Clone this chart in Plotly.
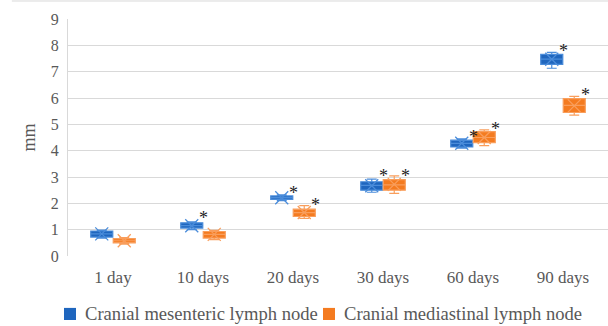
import plotly.graph_objects as go

categories = ["1 day", "10 days", "20 days", "30 days", "60 days", "90 days"]

mes_name = "Cranial mesenteric lymph node"
mes_low = [0.68, 1.00, 2.10, 2.42, 4.10, 7.13]
mes_q1 = [0.72, 1.06, 2.15, 2.50, 4.14, 7.28]
mes_med = [0.84, 1.15, 2.22, 2.68, 4.28, 7.48]
mes_q3 = [0.95, 1.26, 2.28, 2.82, 4.40, 7.66]
mes_high = [0.98, 1.30, 2.32, 2.92, 4.45, 7.73]
mes_mean = [0.84, 1.15, 2.21, 2.67, 4.28, 7.47]
mes_star = [None, 1.60, 2.53, 3.20, 4.69, 7.93]

med_name = "Cranial mediastinal lymph node"
med_low = [0.45, 0.62, 1.43, 2.38, 4.19, 5.35]
med_q1 = [0.50, 0.68, 1.50, 2.50, 4.30, 5.45]
med_med = [0.58, 0.82, 1.65, 2.70, 4.50, 5.72]
med_q3 = [0.66, 0.93, 1.78, 2.90, 4.72, 5.98]
med_high = [0.70, 0.97, 1.91, 3.04, 4.79, 6.06]
med_mean = [0.58, 0.82, 1.65, 2.72, 4.50, 5.70]
med_star = [None, None, 2.07, 3.18, 4.98, 6.25]

FONT = "Liberation Serif, Times New Roman, serif"
GRAY = "#595959"
GRID = "#D9D9D9"

series = [
    dict(name=mes_name, low=mes_low, q1=mes_q1, med=mes_med, q3=mes_q3, high=mes_high,
         mean=mes_mean, star=mes_star, fill="#1F66BE", line="#4A8CDA", off=-0.125, star_off=0.0,
         leg_x=-0.0074),
    dict(name=med_name, low=med_low, q1=med_q1, med=med_med, q3=med_q3, high=med_high,
         mean=med_mean, star=med_star, fill="#F47B20", line="#F99E5C", off=0.125, star_off=0.25,
         leg_x=0.4722),
]

fig = go.Figure()
annotations = []
shapes = [dict(type="line", xref="paper", yref="paper", x0=-0.104, x1=1.0, y0=1.076, y1=1.076,
               line=dict(color=GRID, width=1))]
for s in series:
    xs = [i + s["off"] for i in range(len(categories))]
    fig.add_trace(go.Box(
        x=xs, q1=s["q1"], median=s["med"], q3=s["q3"],
        lowerfence=s["low"], upperfence=s["high"],
        width=0.245, whiskerwidth=0.45, name=s["name"],
        fillcolor=s["fill"], line=dict(color=s["line"], width=1.2),
        marker=dict(color=s["fill"]), showlegend=False, hoverinfo="skip",
    ))
    fig.add_trace(go.Scatter(
        x=xs, y=s["mean"], mode="markers",
        marker=dict(symbol="x-thin-open", size=13, color=s["line"],
                    line=dict(color=s["line"], width=1.3)),
        showlegend=False, hoverinfo="skip",
    ))
    for i, v in enumerate(s["star"]):
        if v is not None:
            annotations.append(dict(
                x=i + s["star_off"], y=v, text="*", showarrow=False,
                font=dict(family=FONT, size=18, color="#222222"), yshift=-4,
            ))
    # legend entry (square + label), placed below the plot
    shapes.append(dict(type="rect", xref="paper", yref="paper",
                       x0=s["leg_x"], x1=s["leg_x"] + 0.0222, y0=-0.270, y1=-0.219,
                       fillcolor=s["fill"], line=dict(width=0)))
    annotations.append(dict(
        xref="paper", yref="paper", x=s["leg_x"] + 0.035, y=-0.2447,
        xanchor="left", yanchor="middle", text=s["name"], showarrow=False,
        font=dict(family=FONT, size=18.6, color=GRAY),
    ))

fig.update_layout(
    width=608, height=326,
    margin=dict(l=68, r=0, t=19, b=70),
    paper_bgcolor="white", plot_bgcolor="white",
    font=dict(family=FONT, color=GRAY, size=16),
    annotations=annotations,
    shapes=shapes,
    showlegend=False,
    xaxis=dict(range=[-0.5, 5.5], tickvals=list(range(len(categories))), ticktext=categories,
               showgrid=False, zeroline=False, showline=False, ticks="",
               ticklabelstandoff=9,
               tickfont=dict(family=FONT, size=17, color=GRAY)),
    yaxis=dict(range=[0, 9], dtick=1, showgrid=True, gridcolor=GRID, gridwidth=1,
               zeroline=False, showline=True, linecolor=GRID, linewidth=1, ticks="",
               ticklabelstandoff=5,
               tickfont=dict(family=FONT, size=16, color=GRAY),
               title=dict(text="mm", font=dict(family=FONT, size=18, color=GRAY), standoff=10)),
)

fig.write_html("out.html")
